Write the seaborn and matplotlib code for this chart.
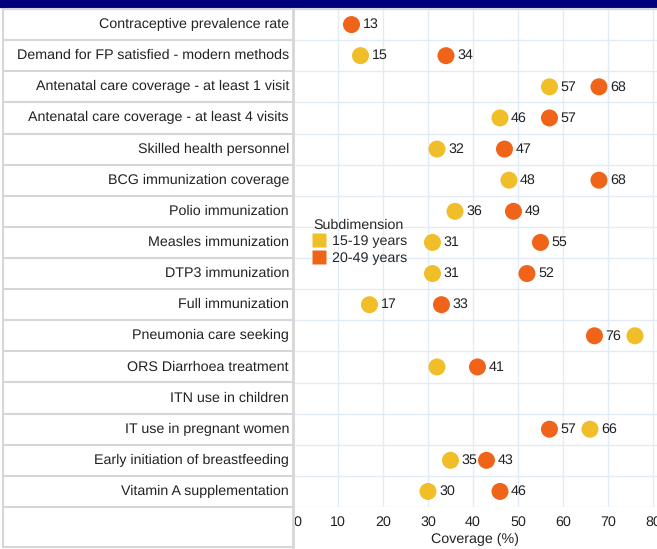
import numpy as np
import pandas as pd
import matplotlib
matplotlib.use("Agg")
import matplotlib.pyplot as plt
from matplotlib.lines import Line2D
from matplotlib.patches import Rectangle
import seaborn as sns

indicators = [
    "Contraceptive prevalence rate",
    "Demand for FP satisfied - modern methods",
    "Antenatal care coverage - at least 1 visit",
    "Antenatal care coverage - at least 4 visits",
    "Skilled health personnel",
    "BCG immunization coverage",
    "Polio immunization",
    "Measles immunization",
    "DTP3 immunization",
    "Full immunization",
    "Pneumonia care seeking",
    "ORS Diarrhoea treatment",
    "ITN use in children",
    "IT use in pregnant women",
    "Early initiation of breastfeeding",
    "Vitamin A supplementation",
]
groups = ["15-19 years", "20-49 years"]
colors = ["#F0BE28", "#F0641A"]

young = [np.nan, 15, 57, 46, 32, 48, 36, 31, 31, 17, 76, 32, np.nan, 66, 35, 30]
older = [13, 34, 68, 57, 47, 68, 49, 55, 52, 33, 67, 41, np.nan, 57, 43, 46]
young_labels = [None, "15", "57", "46", "32", "48", "36", "31", "31", "17",
                None, None, None, "66", "35", "30"]
older_labels = ["13", "34", "68", "57", "47", "68", "49", "55", "52", "33",
                "76", "41", None, "57", "43", "46"]

sns.set_style("white")
plt.rcParams["font.family"] = ["Liberation Sans", "DejaVu Sans"]
plt.rcParams["font.size"] = 10.3
plt.rcParams["text.hinting"] = "no_hinting"

df = pd.DataFrame({
    "indicator": indicators * 2,
    "row": list(range(len(indicators))) * 2,
    "value": young + older,
    "group": [groups[0]] * len(indicators) + [groups[1]] * len(indicators),
})

W, H = 657, 549
fig = plt.figure(figsize=(W / 100, H / 100), dpi=100)

top, row_bottom, fig_bottom = 9, 507, 547
left_plot = 293
n = len(indicators)
row_h = (row_bottom - top) / n
grid_blue = "#E1ECF7"
line_gray = "#D6D6D6"
fs = 10.3

# label column
ax_lab = fig.add_axes([3 / W, (H - fig_bottom) / H, (left_plot - 3) / W, (fig_bottom - top) / H])
extra = (fig_bottom - row_bottom) / row_h
ax_lab.set_xlim(0, left_plot - 3)
ax_lab.set_ylim(n - 0.5 + extra, -0.5)
for k in range(n + 1):
    ax_lab.axhline(k - 0.5, color=line_gray, lw=1.5)
for i, name in enumerate(indicators):
    ax_lab.text(left_plot - 3 - 4, i, name, ha="right", va="center", fontsize=fs, color="#222222")
ax_lab.set_xticks([])
ax_lab.set_yticks([])
for s in ax_lab.spines.values():
    s.set_color(line_gray)
    s.set_linewidth(1.5)
ax_lab.spines["right"].set_visible(False)

# plot area
ax = fig.add_axes([left_plot / W, (H - row_bottom) / H, (W - left_plot) / W, (row_bottom - top) / H])
ax.set_xlim(0, 80.9)
ax.set_ylim(n - 0.5, -0.5)
ax.set_xticks(range(0, 90, 10))
ax.set_yticks(np.arange(-0.5, n, 1.0), minor=True)
ax.set_yticks([])
ax.grid(True, axis="x", color=grid_blue, lw=1)
ax.grid(True, axis="y", which="minor", color=grid_blue, lw=1)
ax.set_axisbelow(True)

sns.scatterplot(data=df, x="value", y="row", hue="group", hue_order=groups,
                palette=colors, s=150, edgecolor="none", legend=False, ax=ax, zorder=3)

for vals, labs in [(young, young_labels), (older, older_labels)]:
    for i, (v, lab) in enumerate(zip(vals, labs)):
        if lab is None:
            continue
        ax.annotate(lab, (v, i), xytext=(8, 0), textcoords="offset points",
                    ha="left", va="center", fontsize=fs, color="#222222", zorder=4)

for s in ax.spines.values():
    s.set_visible(False)
ax.tick_params(axis="x", length=0, pad=6, labelsize=fs, labelcolor="#222222")
ax.set_xlabel("Coverage (%)", fontsize=fs, color="#222222", labelpad=3)
ax.set_ylabel("")
ticklabs = ax.get_xticklabels()
ticklabs[0].set_ha("left")

handles = [Line2D([0], [0], marker="s", color="none", markerfacecolor=c,
                  markeredgecolor="none", markersize=10) for c in colors]
leg = ax.legend(handles, groups, title="Subdimension", loc="upper left",
                bbox_to_anchor=(0.039, 0.591), frameon=False, fontsize=fs,
                title_fontsize=fs, handlelength=0.9, handletextpad=0.4,
                labelspacing=0.25, borderaxespad=0)
leg._legend_box.align = "left"

# vertical separator and header band
fig.add_artist(Line2D([left_plot / W, left_plot / W], [0, (H - top) / H],
                      color=line_gray, lw=2, transform=fig.transFigure))
fig.add_artist(Line2D([3 / W, 1], [(H - top) / H, (H - top) / H],
                      color=line_gray, lw=1.5, transform=fig.transFigure))
fig.add_artist(Rectangle((0, (H - 7) / H), 1, 7 / H, color="#00007F",
                         transform=fig.transFigure))

fig.savefig("out.png", dpi=100)
